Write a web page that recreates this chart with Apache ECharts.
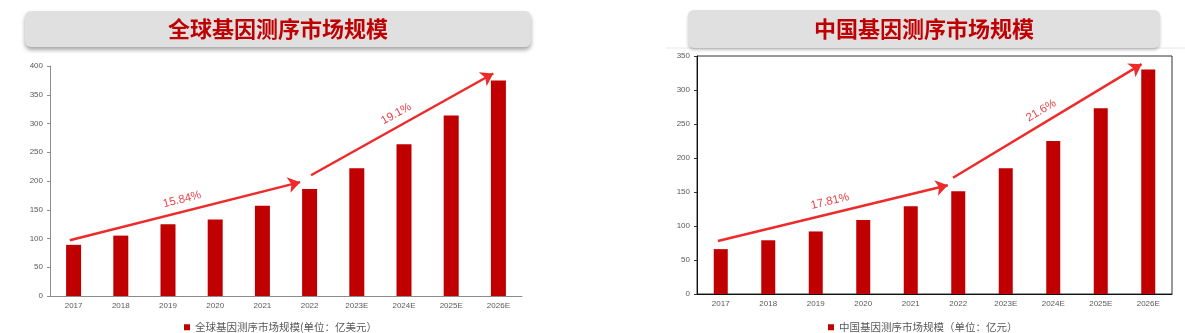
<!DOCTYPE html>
<html>
<head>
<meta charset="utf-8">
<script src="https://cdn.jsdelivr.net/npm/echarts@6/dist/echarts.min.js"></script>
<style>
    html, body { margin: 0; padding: 0; background: #fff; }
    #market-chart { width: 1185px; height: 333px; }
</style>
</head>
<body>
<div id="market-chart"></div>
<script>
var years = ['2017', '2018', '2019', '2020', '2021', '2022', '2023E', '2024E', '2025E', '2026E'];
var globalValues = [89, 105, 125, 133, 157, 186, 222, 264, 314, 375];
var chinaValues = [66, 79, 92, 109, 129, 151, 185, 225, 273, 330];
var globalName = '全球基因测序市场规模(单位：亿美元）';
var chinaName = '中国基因测序市场规模（单位：亿元）';
// 增长率箭头（x为类目序号，y为数值）
var globalArrows = [
    {label: '15.84%', from: [-0.08, 97], to: [4.8, 198]},
    {label: '19.1%', from: [5.03, 210], to: [8.89, 387]}
];
var chinaArrows = [
    {label: '17.81%', from: [-0.06, 78], to: [4.78, 160]},
    {label: '21.6%', from: [4.89, 171], to: [8.86, 338]}
];

function arrowLines(list) {
    var out = [];
    for (var i = 0; i < list.length; i++) {
        out.push([
            {name: list[i].label, coord: list[i].from},
            {coord: list[i].to}
        ]);
    }
    return out;
}

var axisFont = {fontSize: 8, color: '#595959', fontFamily: 'Liberation Sans'};

function arrowSeries(xIdx, yIdx, list) {
    return {
        type: 'line',
        xAxisIndex: xIdx,
        yAxisIndex: yIdx,
        data: [],
        silent: true,
        markLine: {
            silent: true,
            animation: false,
            symbol: ['none', 'arrow'],
            symbolSize: 12,
            lineStyle: {color: '#ee2a2a', width: 2.5, type: 'solid'},
            label: {
                show: true,
                position: 'insideMiddleTop',
                formatter: '{b}',
                color: '#e8424a',
                fontSize: 11.5,
                fontFamily: 'Liberation Sans',
                distance: 6
            },
            emphasis: {disabled: true},
            data: arrowLines(list)
        }
    };
}

var marketChart = echarts.init(document.getElementById('market-chart'));

var marketChartOption = {
    animation: false,
    title: [
        {
            text: '全球基因测序市场规模',
            left: 25,
            top: 11,
            padding: [7, 143],
            backgroundColor: '#e0e0e0',
            borderRadius: 6,
            shadowBlur: 4,
            shadowColor: 'rgba(0,0,0,0.35)',
            shadowOffsetY: 3,
            textStyle: {color: '#c00000', fontSize: 22, fontWeight: 'bold', fontFamily: 'Noto Sans CJK SC'}
        },
        {
            text: '中国基因测序市场规模',
            left: 688,
            top: 10,
            padding: [8, 126],
            backgroundColor: '#e0e0e0',
            borderRadius: 6,
            shadowBlur: 3,
            shadowColor: 'rgba(0,0,0,0.25)',
            shadowOffsetY: 2,
            textStyle: {color: '#c00000', fontSize: 22, fontWeight: 'bold', fontFamily: 'Noto Sans CJK SC'}
        }
    ],
    legend: [
        {
            data: [globalName],
            left: 179,
            top: 317,
            itemWidth: 6,
            itemHeight: 6,
            itemGap: 4,
            icon: 'rect',
            textStyle: {fontSize: 10.5, color: '#595959', fontFamily: 'Noto Sans CJK SC'}
        },
        {
            data: [chinaName],
            left: 823,
            top: 317,
            itemWidth: 6,
            itemHeight: 6,
            itemGap: 4,
            icon: 'rect',
            textStyle: {fontSize: 10.5, color: '#595959', fontFamily: 'Noto Sans CJK SC'}
        }
    ],
    graphic: [
        {
            type: 'line',
            shape: {x1: 666, y1: 48, x2: 1185, y2: 48},
            style: {stroke: '#e6e6e6', lineWidth: 1},
            silent: true
        }
    ],
    grid: [
        {left: 50, right: 663, top: 66, bottom: 37},
        {left: 697, right: 13, top: 56, bottom: 39, show: true, borderColor: '#333', borderWidth: 1}
    ],
    xAxis: [
        {
            type: 'category',
            gridIndex: 0,
            data: years,
            axisLine: {lineStyle: {color: '#8c8c8c'}},
            axisTick: {show: false},
            axisLabel: {margin: 6, interval: 0, fontSize: axisFont.fontSize, color: axisFont.color, fontFamily: axisFont.fontFamily}
        },
        {
            type: 'category',
            gridIndex: 1,
            data: years,
            axisLine: {lineStyle: {color: '#111'}},
            axisTick: {show: false},
            axisLabel: {margin: 6, interval: 0, fontSize: axisFont.fontSize, color: axisFont.color, fontFamily: axisFont.fontFamily}
        },
        {type: 'value', gridIndex: 0, min: -0.5, max: 9.5, show: false},
        {type: 'value', gridIndex: 1, min: -0.5, max: 9.5, show: false}
    ],
    yAxis: [
        {
            type: 'value',
            gridIndex: 0,
            min: 0,
            max: 400,
            interval: 50,
            splitLine: {show: false},
            axisLine: {show: true, onZero: false, lineStyle: {color: '#8c8c8c'}},
            axisTick: {show: true, length: 3, lineStyle: {color: '#8c8c8c'}},
            axisLabel: {margin: 7, fontSize: axisFont.fontSize, color: axisFont.color, fontFamily: axisFont.fontFamily}
        },
        {
            type: 'value',
            gridIndex: 1,
            min: 0,
            max: 350,
            interval: 50,
            splitLine: {show: false},
            axisLine: {show: true, onZero: false, lineStyle: {color: '#111'}},
            axisTick: {show: true, length: 3, lineStyle: {color: '#333'}},
            axisLabel: {margin: 7, fontSize: axisFont.fontSize, color: axisFont.color, fontFamily: axisFont.fontFamily}
        }
    ],
    series: [
        {
            name: globalName,
            type: 'bar',
            xAxisIndex: 0,
            yAxisIndex: 0,
            barWidth: 15,
            itemStyle: {color: '#c00000'},
            data: globalValues
        },
        {
            name: chinaName,
            type: 'bar',
            xAxisIndex: 1,
            yAxisIndex: 1,
            barWidth: 14,
            itemStyle: {color: '#c00000'},
            data: chinaValues
        },
        arrowSeries(2, 0, globalArrows),
        arrowSeries(3, 1, chinaArrows)
    ]
};

marketChart.setOption(marketChartOption);
</script>
</body>
</html>
